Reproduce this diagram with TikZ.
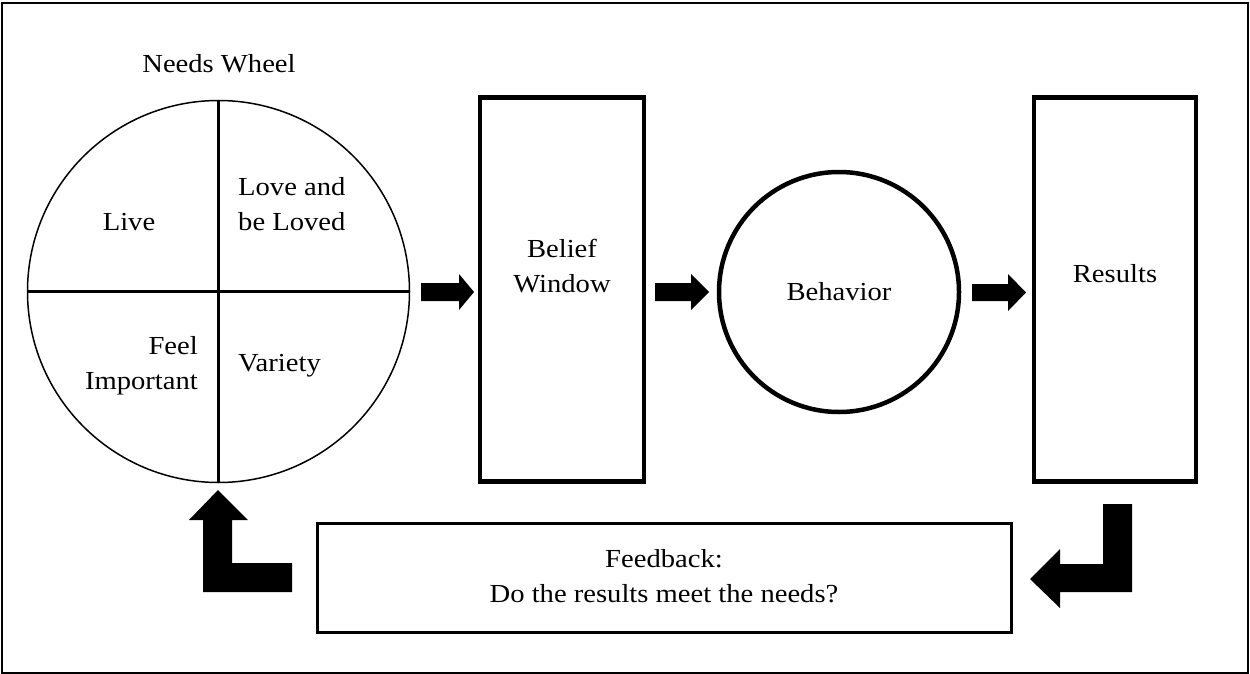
\documentclass[tikz,border=0pt]{standalone}
\usepackage{fontspec}
\setmainfont{Liberation Serif}[FakeStretch=1.1]
\begin{document}
\begin{tikzpicture}[x=1pt,y=-1pt,
  txt/.style={font=\fontsize{26}{35}\selectfont, inner sep=0pt},
  box/.style={draw, line width=4.5pt, inner sep=0pt},
  blk/.style={fill=black, draw=none}]
\useasboundingbox (0,0) rectangle (1250,674);
\draw[line width=2.3pt] (2.3,3) rectangle (1248,673);
% needs wheel
\node[circle, draw, line width=1.5pt, minimum size=382pt, inner sep=0pt] (wheel) at (218.5,291.5) {};
\draw[line width=3pt] (wheel.north) -- (wheel.south);
\draw[line width=3pt] (wheel.west) -- (wheel.east);
\node[txt, anchor=base] (title) at (219,73) {Needs Wheel};
\node[txt] (live) at (129,222) {Live};
\node[txt, align=left, anchor=west] (love) at (238,204) {Love and\\be Loved};
\node[txt, align=right, anchor=east] (feel) at (198,366) {Feel\\Important};
\node[txt, anchor=west] (variety) at (238,366) {Variety};
% belief window
\node[box, minimum width=164pt, minimum height=384pt] (belief) at (562,289.5) {};
\node[txt, align=center] (beliefT) at (562,266) {Belief\\Window};
% behavior
\node[circle, box, minimum size=240pt] (beh) at (839,292) {};
\node[txt] (behT) at (beh.center) {Behavior};
% results
\node[box, minimum width=162pt, minimum height=384pt] (res) at (1115,289.5) {};
\node[txt] (resT) at (1115,274) {Results};
% feedback
\node[draw, line width=3pt, minimum width=694pt, minimum height=109pt, inner sep=0pt] (fb) at (664,577.5) {};
\node[txt, align=center] (fbT) at (664,576) {Feedback:\\Do the results meet the needs?};
% block arrows
\fill[blk] (421,283) -- (459,283) -- (459,274) -- (474,292) -- (459,310) -- (459,301) -- (421,301) -- cycle;
\fill[blk] (655,283) -- (691,283) -- (691,274) -- (709,292) -- (691,310) -- (691,301) -- (655,301) -- cycle;
\fill[blk] (972,284) -- (1008,284) -- (1008,274) -- (1026,292.5) -- (1008,311) -- (1008,301) -- (972,301) -- cycle;
% bent arrows
\fill[blk] (1132,504) -- (1132,592) -- (1060,592) -- (1060,608) -- (1030,579) -- (1060,549) -- (1060,564) -- (1103,564) -- (1103,504) -- cycle;
\fill[blk] (203,592) -- (292,592) -- (292,563) -- (232,563) -- (232,520) -- (248,520) -- (218,490) -- (189,520) -- (203,520) -- cycle;
\end{tikzpicture}
\end{document}
